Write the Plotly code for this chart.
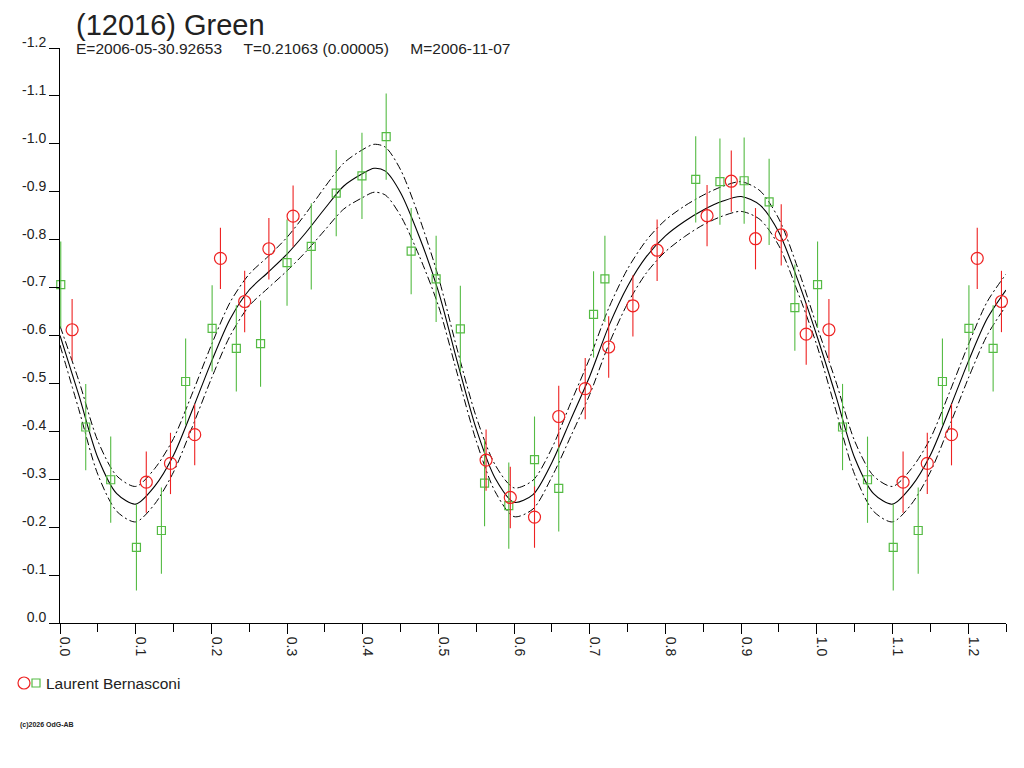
import plotly.graph_objects as go

green_phase = [0.001, 0.034, 0.067, 0.101, 0.134, 0.166, 0.201, 0.233, 0.265, 0.300,
               0.332, 0.365, 0.399, 0.431, 0.464, 0.497, 0.529, 0.561, 0.593, 0.627,
               0.659, 0.705, 0.720, 0.840, 0.872, 0.904, 0.937, 0.971]
green_mag = [-0.706, -0.409, -0.299, -0.158, -0.193, -0.504, -0.615, -0.573, -0.583, -0.752,
             -0.786, -0.897, -0.933, -1.015, -0.776, -0.718, -0.614, -0.292, -0.245, -0.341,
             -0.281, -0.644, -0.718, -0.926, -0.921, -0.923, -0.879, -0.658]
green_err = 0.09

red_phase = [0.016, 0.114, 0.146, 0.178, 0.212, 0.244, 0.276, 0.308, 0.563, 0.595,
             0.627, 0.659, 0.694, 0.725, 0.757, 0.789, 0.855, 0.887, 0.919, 0.953, 0.986]
red_mag = [-0.612, -0.294, -0.333, -0.393, -0.761, -0.671, -0.781, -0.849, -0.340, -0.262,
           -0.221, -0.431, -0.489, -0.576, -0.662, -0.778, -0.850, -0.922, -0.802, -0.810, -0.603]
red_err = 0.064

# fitted curve and its envelope, one period
fit_phase = [0.000, 0.025, 0.050, 0.075, 0.100, 0.125, 0.150, 0.175, 0.200, 0.225,
             0.250, 0.275, 0.300, 0.325, 0.350, 0.375, 0.400, 0.415, 0.430, 0.450,
             0.475, 0.500, 0.525, 0.550, 0.575, 0.600, 0.625, 0.650, 0.675, 0.700,
             0.725, 0.750, 0.775, 0.800, 0.825, 0.850, 0.875, 0.900, 0.925, 0.950,
             0.975, 1.000]
fit_mag = [-0.600, -0.475, -0.345, -0.270, -0.248, -0.285, -0.350, -0.445, -0.545, -0.635,
           -0.695, -0.732, -0.770, -0.815, -0.865, -0.912, -0.938, -0.949, -0.943, -0.898,
           -0.805, -0.692, -0.545, -0.405, -0.302, -0.252, -0.268, -0.335, -0.425, -0.515,
           -0.619, -0.703, -0.765, -0.808, -0.838, -0.862, -0.880, -0.890, -0.872, -0.815,
           -0.715, -0.600]
fit_hi = [-0.620, -0.505, -0.380, -0.307, -0.285, -0.322, -0.385, -0.480, -0.580, -0.670,
          -0.728, -0.765, -0.805, -0.855, -0.910, -0.960, -0.988, -0.999, -0.993, -0.946,
          -0.845, -0.722, -0.570, -0.430, -0.330, -0.282, -0.298, -0.365, -0.460, -0.553,
          -0.657, -0.739, -0.799, -0.841, -0.870, -0.893, -0.911, -0.921, -0.902, -0.843,
          -0.740, -0.620]
fit_lo = [-0.580, -0.445, -0.310, -0.233, -0.211, -0.248, -0.315, -0.410, -0.510, -0.600,
          -0.662, -0.699, -0.735, -0.775, -0.820, -0.864, -0.888, -0.899, -0.893, -0.850,
          -0.765, -0.662, -0.520, -0.380, -0.274, -0.222, -0.238, -0.305, -0.390, -0.477,
          -0.581, -0.667, -0.731, -0.775, -0.806, -0.831, -0.849, -0.859, -0.842, -0.787,
          -0.690, -0.580]

x_ticks = [0.0, 0.1, 0.2, 0.3, 0.4, 0.5, 0.6, 0.7, 0.8, 0.9, 1.0, 1.1, 1.2]
y_ticks = [-1.2, -1.1, -1.0, -0.9, -0.8, -0.7, -0.6, -0.5, -0.4, -0.3, -0.2, -0.1, 0.0]
y_labels = ["-1.2", "-1.1", "-1.0", "-0.9", "-0.8", "-0.7", "-0.6", "-0.5", "-0.4",
            "-0.3", "-0.2", "-0.1", "0.0"]

PMAX = 1.25
RED = "#ee2222"
GREEN = "#55bb44"
TXT = "#222222"
FONT = "Arial, Liberation Sans, sans-serif"
DASHDOT = "8px,3px,2px,3px"


def extend(ph, vals):
    # repeat the start of the period after phase 1
    xs = list(ph) + [p + 1 for p in ph if 0 < p and p + 1 <= PMAX]
    ys = list(vals) + [v for p, v in zip(ph, vals) if 0 < p and p + 1 <= PMAX]
    return xs, ys


fig = go.Figure()

for ys, dash, w in [(fit_hi, DASHDOT, 1), (fit_lo, DASHDOT, 1), (fit_mag, "solid", 1.1)]:
    x, y = extend(fit_phase, ys)
    fig.add_trace(go.Scatter(x=x, y=y, mode="lines",
                             line=dict(color="black", width=w, dash=dash, shape="spline", smoothing=0.8),
                             showlegend=False, hoverinfo="skip"))

gx, gy = extend(green_phase, green_mag)
fig.add_trace(go.Scatter(x=gx, y=gy, mode="markers", cliponaxis=False,
                         marker=dict(symbol="square-open", size=8, color=GREEN, line=dict(width=1.2)),
                         error_y=dict(type="constant", value=green_err, color=GREEN, thickness=1.1, width=0),
                         showlegend=False))
rx, ry = extend(red_phase, red_mag)
fig.add_trace(go.Scatter(x=rx, y=ry, mode="markers", cliponaxis=False,
                         marker=dict(symbol="circle-open", size=12, color=RED, line=dict(width=1.2)),
                         error_y=dict(type="constant", value=red_err, color=RED, thickness=1.1, width=0),
                         showlegend=False))

# the page body adds an 8px offset; screen plot area is x 60..1006, y 48..623
OFF = 8
W, H = 1024 - OFF, 768 - OFF
L, R, T, B = 60 - OFF, 1006 - OFF, 48 - OFF, 623 - OFF


def px(x):
    return (x - OFF - L) / (R - L)


def py(y):
    return (B - (y - OFF)) / (B - T)


fig.update_layout(
    width=W, height=H,
    margin=dict(l=L, r=W - R, t=T, b=H - B),
    plot_bgcolor="white", paper_bgcolor="white",
    font=dict(family=FONT, size=14, color=TXT),
    showlegend=False,
    xaxis=dict(range=[0, PMAX], automargin=False, showgrid=False, zeroline=False, showline=True,
               linecolor="black", ticks="outside", ticklen=10, tickcolor="black", tickvals=x_ticks,
               ticktext=["%.1f" % v for v in x_ticks], tickangle=90, ticklabelshift=5,
               minor=dict(ticks="outside", ticklen=8, tickcolor="black",
                          tickvals=[v + 0.05 for v in x_ticks]),
               tickfont=dict(size=14)),
    yaxis=dict(range=[0, -1.2], automargin=False, showgrid=False, zeroline=False, showline=True,
               linecolor="black", ticks="outside", ticklen=10, tickcolor="black", tickvals=y_ticks,
               ticktext=y_labels, ticklabelshift=6, tickfont=dict(size=14)),
)

# title kept inside the page (top of its box at the figure edge)
fig.add_annotation(text="(12016) Green", xref="paper", yref="paper", x=px(75), y=py(OFF),
                   xanchor="left", yanchor="top", borderpad=0, showarrow=False,
                   font=dict(size=29, color=TXT))
fig.add_annotation(text="E=2006-05-30.92653&nbsp;&nbsp;&nbsp;&nbsp;&nbsp;T=0.21063 (0.00005)&nbsp;&nbsp;&nbsp;&nbsp;&nbsp;M=2006-11-07",
                   xref="paper", yref="paper", x=px(74), y=py(49), xanchor="left", yanchor="middle",
                   showarrow=False, font=dict(size=15.5, color=TXT))

# legend row
fig.add_shape(type="circle", xref="paper", yref="paper",
              x0=px(18), x1=px(30), y0=py(689), y1=py(677), line=dict(color=RED, width=1.2))
fig.add_shape(type="rect", xref="paper", yref="paper",
              x0=px(32), x1=px(40), y0=py(687), y1=py(679), line=dict(color=GREEN, width=1.2))
fig.add_annotation(text="Laurent Bernasconi", xref="paper", yref="paper", x=px(44), y=py(683),
                   xanchor="left", yanchor="middle", showarrow=False, font=dict(size=15.5, color=TXT))
fig.add_annotation(text="<b>(c)2026 OdG-AB</b>", xref="paper", yref="paper", x=px(18), y=py(725),
                   xanchor="left", yanchor="middle", showarrow=False, font=dict(size=7, color=TXT))

fig.write_html("out.html")
